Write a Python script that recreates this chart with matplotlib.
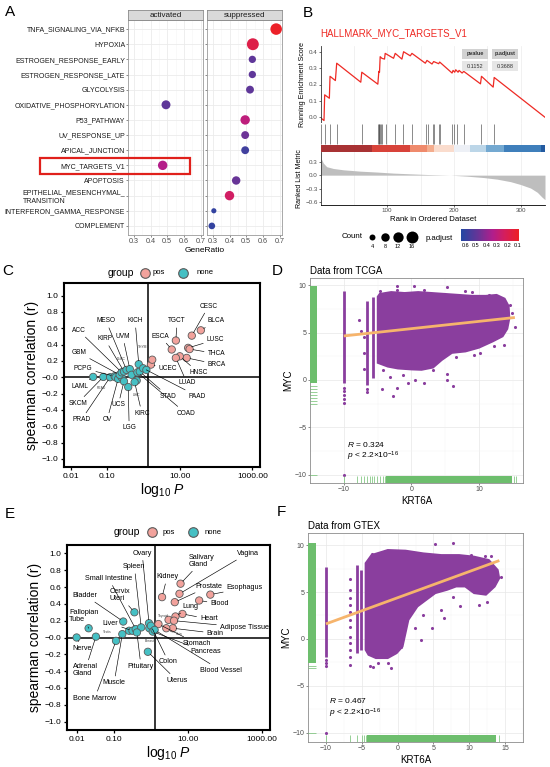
"""Six-panel figure: hallmark GSEA, MYC enrichment and KRT6A-MYC correlations."""

import matplotlib

matplotlib.use("Agg")

import matplotlib.pyplot as plt
import numpy as np
from matplotlib.colors import LinearSegmentedColormap, Normalize
from matplotlib.patches import Rectangle
from matplotlib.ticker import NullLocator

W, H = 550, 767
OUT_FILE = "out.png"

plt.rcParams["font.family"] = ["Liberation Sans", "DejaVu Sans"]
plt.rcParams["mathtext.fontset"] = "custom"
plt.rcParams["mathtext.rm"] = "Liberation Sans"
plt.rcParams["mathtext.it"] = "Liberation Sans:italic"
plt.rcParams["mathtext.bf"] = "Liberation Sans:bold"

# ---------------- Panel A: hallmark dot plot ----------------
A_TERMS = [
    "TNFA_SIGNALING_VIA_NFKB", "HYPOXIA", "ESTROGEN_RESPONSE_EARLY",
    "ESTROGEN_RESPONSE_LATE", "GLYCOLYSIS", "OXIDATIVE_PHOSPHORYLATION",
    "P53_PATHWAY", "UV_RESPONSE_UP", "APICAL_JUNCTION", "MYC_TARGETS_V1",
    "APOPTOSIS", "EPITHELIAL_MESENCHYMAL_\nTRANSITION",
    "INTERFERON_GAMMA_RESPONSE", "COMPLEMENT",
]
A_GROUP = ["suppressed"] * 5 + ["activated"] + ["suppressed"] * 3 + ["activated"] + ["suppressed"] * 4
A_RATIO = [0.68, 0.54, 0.537, 0.537, 0.523, 0.493, 0.494, 0.494, 0.494, 0.473, 0.44, 0.40, 0.306, 0.294]
A_COUNT = [15, 16, 6, 6, 7, 9, 10, 7, 7, 10, 8, 10, 3, 5]
A_PADJ = [0.10, 0.18, 0.50, 0.50, 0.50, 0.50, 0.30, 0.47, 0.57, 0.33, 0.48, 0.24, 0.60, 0.60]
A_FACETS = ["activated", "suppressed"]
COUNT_LEGEND = [4, 8, 12, 16]
PADJ_TICKS = [0.6, 0.5, 0.4, 0.3, 0.2, 0.1]

# ---------------- Panel B: GSEA running score ----------------
B_TITLE = "HALLMARK_MYC_TARGETS_V1"
ES_RANK = [1, 5.5, 6.5, 13.5, 14.5, 22.5, 24.5, 60.5, 62, 86, 87.5, 88.5, 89.5, 92, 96, 97,
           109.5, 112, 122, 124.5, 134.5, 137, 157, 159.5, 167, 169.5, 177, 178.5, 197, 198.5,
           201, 202.5, 206, 207.5, 212, 214.5, 239.5, 241, 258.5, 260, 336]
ES_SCORE = [-0.005, -0.02, 0.137, 0.116, 0.25, 0.224, 0.33, 0.214, 0.275, 0.202, 0.28, 0.275,
            0.37, 0.36, 0.355, 0.39, 0.36, 0.39, 0.355, 0.40, 0.375, 0.39, 0.33, 0.347, 0.325,
            0.34, 0.327, 0.337, 0.27, 0.286, 0.275, 0.29, 0.275, 0.286, 0.27, 0.28, 0.204, 0.25,
            0.184, 0.243, 0.0]
HIT_RANKS = [1, 6.5, 14.5, 24.5, 62, 86, 87, 88, 89, 90, 92, 98, 112, 123.5, 137, 158.5, 160.5,
             168.5, 170.5, 177, 178.5, 197.5, 200.5, 204.5, 214.5, 240.5, 259.5]
BAND_EDGES = [1, 77, 133.5, 159.5, 169.5, 199.5, 224.5, 248.5, 274.5, 330.5, 336]
BAND_COLORS = ["#A83234", "#D8433A", "#EF8A6C", "#F4AD8E", "#FADCCD", "#EDF0F6",
               "#BCD6E8", "#74A9D1", "#3F7FBB", "#235AA0"]
METRIC_RANK = [1, 2, 4.5, 9.5, 19.5, 34.5, 59.5, 84.5, 109.5, 134.5, 159.5, 194.5, 219.5,
               244.5, 264.5, 284.5, 299.5, 314.5, 324.5, 332, 336]
METRIC_VALUE = [0.38, 0.35, 0.27, 0.19, 0.15, 0.12, 0.09, 0.07, 0.046, 0.03, 0.015, 0.0,
                -0.023, -0.054, -0.09, -0.146, -0.21, -0.29, -0.385, -0.5, -0.55]
B_PVALUE = "0.1152"
B_PADJUST = "0.3688"

# ---------------- Panel C: TCGA correlations ----------------
C_NAMES = ["CESC", "BLCA", "LUSC", "THCA", "BRCA", "HNSC", "LUAD", "TGCT", "ESCA", "UCEC", "CHOL",
           "LAML", "SKCM", "PRAD", "PCPG", "DLBC", "OV", "READ", "GBM", "ACC", "KIRP", "MESO",
           "UVM", "UCS", "LGG", "THYM", "LIHC", "KIRC", "COAD", "STAD", "KICH", "PAAD", "SARC"]
C_P = [21.4, 38.0, 17.0, 18.6, 15.5, 10.0, 7.8, 7.8, 6.0, 1.6, 1.74,
       0.041, 0.078, 0.12, 0.16, 0.17, 0.20, 0.25, 0.22, 0.25, 0.29, 0.34,
       0.42, 0.29, 0.38, 0.47, 0.65, 0.57, 0.68, 0.79, 0.74, 0.98, 1.2]
C_R = [0.51, 0.575, 0.36, 0.345, 0.237, 0.257, 0.237, 0.45, 0.34, 0.155, 0.215,
       0.004, 0.004, 0.0, 0.012, 0.0, -0.02, 0.0, 0.03, 0.06, 0.07, 0.09,
       0.10, -0.05, -0.12, 0.03, -0.04, -0.06, 0.06, 0.07, 0.16, 0.11, 0.09]
C_GROUP = ["pos"] * 11 + ["none"] * 22

# ---------------- Panel E: GTEx correlations ----------------
E_NAMES = ["Salivary Gland", "Vagina", "Kidney", "Prostate", "Esophagus", "Blood", "Heart", "Lung",
           "Thyroid", "Adipose Tissue", "Brain", "Skin", "Stomach",
           "Nerve", "Fallopian Tube", "Adrenal Gland", "Bladder", "Cervix Uteri", "Bone Marrow",
           "Muscle", "Testis", "Liver", "Small Intestine", "Spleen", "Pituitary", "Ovary",
           "Breast", "Colon", "Pancreas", "Blood Vessel", "Uterus"]
E_P = [6.3, 5.9, 2.0, 4.4, 40.0, 20.0, 7.1, 4.6, 3.0, 4.2, 3.9, 2.6, 1.6,
       0.01, 0.021, 0.033, 0.18, 0.36, 0.115, 0.17, 0.26, 0.32, 0.39, 0.55, 0.42, 0.89,
       0.91, 1.0, 1.12, 1.26, 0.83]
E_R = [0.64, 0.52, 0.48, 0.42, 0.51, 0.44, 0.28, 0.25, 0.21, 0.20, 0.11, 0.11, 0.16,
       0.0, 0.11, 0.01, 0.19, 0.30, -0.04, 0.04, 0.08, 0.08, 0.10, 0.12, 0.06, 0.17,
       0.11, 0.14, 0.07, 0.09, -0.17]
E_GROUP = ["pos"] * 13 + ["none"] * 18

# ---------------- Panels D and F: KRT6A vs MYC ----------------
# the dense core of each cloud is traced as an outline; stray points are listed one by one
D_CLOUD_X = [-5.0, -5.0, -4.7, -3.0, -1.0, 1.0, 3.0, 5.0, 7.0, 9.0, 11.0, 12.6, 13.8, 14.4,
             14.5, 14.2, 13.5, 12.0, 10.0, 8.0, 6.0, 4.5, 3.2, 1.5, 0.0, -2.0, -3.5]
D_CLOUD_Y = [1.8, 8.8, 9.1, 9.3, 9.2, 9.3, 9.2, 9.1, 9.0, 8.9, 8.9, 9.0, 8.6, 7.8,
             6.5, 5.4, 4.6, 4.05, 3.4, 3.0, 2.85, 2.1, 1.3, 1.06, 1.1, 1.2, 1.4]
D_STRIP_X = [-10.0, -6.56, -5.65]
D_STRIP_LO = [-0.35, -0.5, 0.2]
D_STRIP_HI = [9.35, 8.3, 8.75]
D_DOT_X = [-10.0, -10.0, -10.0, -10.0, -10.0, -10.0,
           -7.82, -7.39, -6.95, -7.0, -7.0, -4.35, -2.74, -2.09, -0.57, 0.52, 1.83, 3.13,
           5.3, 5.2, 6.17, -2.17, 0.43, 5.3, 9.0, 11.4, 15.3, 14.64, 13.7, 12.26, 10.1, 9.2,
           6.6, 3.13, -1.2, -3.17, -4.26, -4.7, -2.09, 1.83, 7.9, 14.86, -6.56, -6.56]
D_DOT_Y = [-0.8, -1.2, -1.6, -2.0, -2.4, -10.0,
           6.35, 5.22, 4.51, 2.9, 1.13, -0.99, -1.69, -0.88, -0.35, 0.0, -0.28, 1.06,
           0.63, 0.0, -0.63, 9.95, 9.95, 9.8, 9.24, 9.0, 5.64, 7.94, 3.7, 3.6, 2.82, 2.64,
           2.47, 1.76, 0.53, 0.35, 1.06, 9.35, 9.5, 9.5, 9.35, 7.06, -0.9, -1.3]
D_FIT_X = [-10.0, 15.3]
D_FIT_Y = [4.65, 6.6]
D_RUG_Y_DENSE = (-0.35, 9.9)
D_RUG_Y_TICKS = [-0.6, -1.0, -1.3, -1.6, -1.9, -2.2, -2.5, -10.0]
D_RUG_X_DENSE = (-3.8, 14.9)
D_RUG_X_TICKS = [-10.0, -8.1, -7.5, -7.0, -6.6, -6.2, -5.8, -5.5, -5.1, -4.6, -4.2, -3.9, 15.2, 15.5]
D_STATS = ("0.324", "2.2")

F_CLOUD_X = [-4.48, -4.48, -3.65, -1.37, 1.12, 3.61, 6.1, 8.6, 10.67, 12.74, 13.99, 14.2,
             13.57, 12.33, 10.67, 9.42, 8.18, 6.93, 5.27, 4.02, 2.78, 1.53, 1.12, 0.71,
             -0.12, -1.37, -3.03, -4.07]
F_CLOUD_Y = [-1.17, 8.08, 8.96, 9.5, 9.43, 9.14, 8.96, 8.96, 8.79, 8.43, 7.36, 6.47,
             5.58, 4.7, 4.87, 5.58, 5.58, 5.23, 4.87, 4.16, 3.45, 2.03, 0.6, -0.82,
             -1.53, -2.06, -2.06, -1.71]
F_STRIP_X = [-10.0, -5.73, -5.1]
F_STRIP_LO = [-1.9, -1.5, -1.2]
F_STRIP_HI = [7.7, 7.9, 7.36]
F_DOT_X = [-10.0, -10.0, -10.0, -10.0,
           -6.64, -6.64, -6.64, -6.64, -6.64, -6.64, -6.64, -6.64, -6.64, -6.64, -6.64, -6.64,
           5.27, 7.76, -2.82, 10.25, 12.54, 11.3, 7.76, 6.51, 4.86, 3.2, 3.61, 2.37, -3.45,
           -1.37, -0.96, 14.4, -3.6, 13.0, 8.75, 6.1, -3.8, -2.7, 0.5, 12.2]
F_DOT_Y = [-2.3, -2.6, -2.9, -10.0,
           6.37, 5.23, 4.34, 3.63, 2.92, 2.03, 1.32, 0.25, -0.46, -1.17, -1.89, -2.77,
           10.1, 10.2, 9.07, 8.96, 3.98, 3.63, 4.51, 2.2, 1.14, -0.1, 2.56, 1.14, -2.95,
           -2.6, -3.13, 6.65, 9.1, 8.8, 3.5, 3.1, -2.9, -2.6, -0.9, 8.8]
F_FIT_X = [-10.0, 14.2]
F_FIT_Y = [1.6, 8.36]
F_RUG_Y_DENSE = (-2.6, 10.2)
F_RUG_Y_TICKS = [-2.9, -3.1, -10.0]
F_RUG_X_DENSE = (-4.3, 13.8)
F_RUG_X_TICKS = [-10.0, -6.6, -5.7, -5.0, -4.7, -4.4, 14.2]
F_STATS = ("0.467", "2.2")

# ---------------- colours and layout ----------------
PADJ_CMAP = LinearSegmentedColormap.from_list(
    "padj", [(0.0, "#EE2024"), (0.25, "#D41E5E"), (0.45, "#B21E8C"), (0.7, "#6A3497"), (1.0, "#2348A3")]
)
PADJ_NORM = Normalize(vmin=0.09, vmax=0.64)
POS_COLOR = "#F2A29C"
NONE_COLOR = "#45C0C4"
PURPLE = "#8A3E9E"
RUG_GREEN = "#6DBE6D"
FIT_ORANGE = "#F6B46C"

# label positions for the correlation panels (left edge x, centre y)
C_LABELS = {
    "CESC": (35, 0.87), "BLCA": (58, 0.69), "LUSC": (55, 0.46), "THCA": (58, 0.29),
    "BRCA": (58, 0.16), "HNSC": (18, 0.06), "LUAD": (9.1, -0.07), "PAAD": (17.4, -0.23),
    "COAD": (8.0, -0.44), "STAD": (2.75, -0.23), "UCEC": (2.6, 0.11), "ESCA": (1.66, 0.50),
    "TGCT": (4.8, 0.69), "KICH": (0.36, 0.69), "MESO": (0.051, 0.69), "UVM": (0.17, 0.50),
    "KIRP": (0.053, 0.47), "ACC": (0.0104, 0.575), "GBM": (0.0104, 0.30), "PCPG": (0.012, 0.11),
    "LAML": (0.0104, -0.11), "SKCM": (0.0084, -0.32), "PRAD": (0.011, -0.52), "OV": (0.074, -0.52),
    "UCS": (0.13, -0.34), "LGG": (0.26, -0.62), "KIRC": (0.55, -0.44),
    "READ": (0.051, -0.13), "LIHC": (0.5, -0.22), "THYM": (0.72, 0.37), "DLBC": (0.18, 0.22),
}
C_TINY = {"READ", "LIHC", "THYM", "DLBC"}
E_LABELS = {
    "Vagina": (204, 1.0), "Salivary Gland": (10.7, 0.91), "Kidney": (1.38, 0.72),
    "Prostate": (16.2, 0.61), "Esophagus": (110, 0.59), "Blood": (40, 0.40), "Lung": (7.2, 0.37),
    "Heart": (21, 0.22), "Adipose Tissue": (72, 0.12), "Brain": (31.6, 0.05),
    "Stomach": (7.1, -0.07), "Pancreas": (11.5, -0.17), "Blood Vessel": (21, -0.39),
    "Colon": (1.66, -0.29), "Uterus": (2.6, -0.51), "Pituitary": (0.24, -0.34),
    "Muscle": (0.05, -0.54), "Bone Marrow": (0.0081, -0.72), "Adrenal Gland": (0.0078, -0.39),
    "Nerve": (0.0075, -0.13), "Fallopian Tube": (0.0063, 0.25), "Bladder": (0.0078, 0.50),
    "Cervix Uteri": (0.076, 0.50), "Small Intestine": (0.017, 0.70), "Spleen": (0.18, 0.84),
    "Ovary": (0.32, 1.0), "Liver": (0.05, 0.17), "Testis": (0.05, 0.07), "Breast": (0.67, -0.04),
    "Thyroid": (1.55, 0.25), "Skin": (4.8, 0.04),
}
E_TINY = {"Testis", "Breast", "Thyroid", "Skin"}
E_TWO_LINE = {"Salivary Gland", "Adrenal Gland", "Fallopian Tube", "Cervix Uteri"}


def add_px_axes(fig, x0, y0, x1, y1):
    return fig.add_axes([x0 / W, 1 - y1 / H, (x1 - x0) / W, (y1 - y0) / H])


def count_size(count):
    return count * 4.6


def draw_panel_a(fig, overlay):
    rows = np.arange(len(A_TERMS))
    boxes = [(128, 203), (207, 282)]
    for facet, (x0, x1) in zip(A_FACETS, boxes):
        ax = add_px_axes(fig, x0, 20, x1, 235)
        idx = [k for k, g in enumerate(A_GROUP) if g == facet]
        ax.scatter([A_RATIO[k] for k in idx], [rows[k] for k in idx],
                   s=[count_size(A_COUNT[k]) for k in idx],
                   c=[A_PADJ[k] for k in idx], cmap=PADJ_CMAP, norm=PADJ_NORM,
                   linewidths=0, zorder=3)
        ax.set_xlim(0.265, 0.715)
        ax.set_ylim(len(A_TERMS) - 0.4, -0.6)
        ax.set_xticks([0.3, 0.4, 0.5, 0.6, 0.7])
        ax.set_xticklabels(["0.3", "0.4", "0.5", "0.6", "0.7"], fontsize=5.2, color="#4D4D4D")
        ax.set_xticks([0.35, 0.45, 0.55, 0.65], minor=True)
        ax.set_yticks(rows)
        if facet == "activated":
            ax.set_yticklabels(A_TERMS, fontsize=5, color="#1A1A1A")
            for lab in ax.get_yticklabels():
                lab.set_multialignment("left")
        else:
            ax.set_yticklabels([])
        ax.tick_params(which="major", length=1.3, width=0.4, color="#333333", pad=0.8)
        ax.tick_params(which="minor", length=0)
        ax.grid(which="major", color="#EBEBEB", lw=0.6)
        ax.grid(which="minor", axis="x", color="#F5F5F5", lw=0.4)
        ax.set_axisbelow(True)
        for sp in ax.spines.values():
            sp.set_color("#9A9A9A")
            sp.set_linewidth(0.6)
        strip = add_px_axes(fig, x0, 10, x1, 20)
        strip.set_facecolor("#D9D9D9")
        strip.set_xticks([])
        strip.set_yticks([])
        for sp in strip.spines.values():
            sp.set_color("#8C8C8C")
            sp.set_linewidth(0.6)
        strip.text(0.5, 0.45, facet, transform=strip.transAxes, ha="center", va="center",
                   fontsize=5.8, color="#1A1A1A")
    overlay.text(205, 251, "GeneRatio", ha="center", va="center", fontsize=6)
    overlay.add_patch(Rectangle((40, 157.5), 150, 16, fill=False, ec="#E0201B", lw=1.6))


def draw_panel_b(fig, overlay):
    xlim = (1, 336)
    ax_es = add_px_axes(fig, 321, 46, 545, 123)
    ax_es.plot(ES_RANK, ES_SCORE, color="#EE2A24", lw=0.9)
    ax_es.set_xlim(xlim)
    ax_es.set_ylim(-0.035, 0.435)
    ax_es.set_yticks([0, 0.1, 0.2, 0.3, 0.4])
    ax_es.set_yticklabels(["0.0", "0.1", "0.2", "0.3", "0.4"], fontsize=4.5, color="#4D4D4D")
    ax_es.set_ylabel("Running Enrichment Score", fontsize=5, labelpad=2)

    ax_hit = add_px_axes(fig, 321, 123, 545, 152)
    ax_hit.vlines(HIT_RANKS, 0.27, 0.95, color="#333333", lw=0.5, alpha=0.8)
    bands = [(BAND_EDGES[i], BAND_EDGES[i + 1] - BAND_EDGES[i]) for i in range(len(BAND_COLORS))]
    ax_hit.broken_barh(bands, (0, 0.25), facecolors=BAND_COLORS)
    ax_hit.set_xlim(xlim)
    ax_hit.set_ylim(0, 1)
    ax_hit.set_yticks([])

    ax_rank = add_px_axes(fig, 321, 152, 545, 205)
    ax_rank.fill_between(METRIC_RANK, METRIC_VALUE, 0, color="#BEBEBE", lw=0)
    ax_rank.set_xlim(xlim)
    ax_rank.set_ylim(-0.67, 0.52)
    ax_rank.set_yticks([0.3, 0.0, -0.3, -0.6])
    ax_rank.set_yticklabels(["0.3", "0.0", "\u22120.3", "\u22120.6"], fontsize=4.5, color="#4D4D4D")
    ax_rank.set_xticks([100, 200, 300])
    ax_rank.set_xticklabels(["100", "200", "300"], fontsize=4.5, color="#4D4D4D")
    ax_rank.set_xlabel("Rank in Ordered Dataset", fontsize=5.6, labelpad=2)
    ax_rank.set_ylabel("Ranked List Metric", fontsize=5, labelpad=2)

    for ax in (ax_es, ax_hit, ax_rank):
        ax.set_xticks([50, 150, 250], minor=True)
        ax.grid(axis="x", which="both", color="#EBEBEB", lw=0.5)
        ax.set_axisbelow(True)
        for name in ("top", "right"):
            ax.spines[name].set_visible(False)
        ax.spines["left"].set_linewidth(0.6)
        ax.spines["left"].set_color("#333333")
        ax.tick_params(which="both", length=1.2, width=0.4, pad=1)
        ax.tick_params(which="minor", length=0)
    for ax in (ax_es, ax_hit):
        ax.spines["bottom"].set_visible(False)
        ax.tick_params(axis="x", which="both", length=0, labelbottom=False)
    ax_hit.spines["left"].set_visible(False)
    ax_rank.spines["bottom"].set_linewidth(0.6)

    overlay.text(320, 33, B_TITLE, color="#EE2A24", fontsize=7, ha="left", va="center")
    cells = [(462, 49, "pvalue", "#D2D2D2", True), (492, 49, "p.adjust", "#D2D2D2", True),
             (462, 61, B_PVALUE, "#E6E6E6", False), (492, 61, B_PADJUST, "#E6E6E6", False)]
    for x, y, txt, col, bold in cells:
        overlay.add_patch(Rectangle((x, y), 26, 10, fc=col, ec="none"))
        overlay.text(x + 13, y + 5, txt, ha="center", va="center", fontsize=4,
                     fontweight="bold" if bold else "normal", color="#333333")

    # legends
    overlay.text(352, 237, "Count", ha="center", va="center", fontsize=5.7)
    for cx, cnt in zip([372, 385, 397.5, 412], COUNT_LEGEND):
        overlay.scatter([cx], [237], s=count_size(cnt), color="black", lw=0)
        overlay.text(cx, 247, str(cnt), ha="center", va="center", fontsize=4)
    overlay.text(439, 239, "p.adjust", ha="center", va="center", fontsize=5.6)
    ax_cb = add_px_axes(fig, 461, 229, 519, 241)
    ax_cb.imshow(np.linspace(0.64, 0.09, 200)[None, :], aspect="auto", cmap=PADJ_CMAP,
                 norm=PADJ_NORM, extent=(0.64, 0.09, 0, 1))
    ax_cb.set_xlim(0.64, 0.09)
    ax_cb.set_yticks([])
    ax_cb.set_xticks(PADJ_TICKS)
    ax_cb.set_xticklabels([f"{v:.1f}" for v in PADJ_TICKS], fontsize=4)
    ax_cb.tick_params(axis="x", length=0, pad=1.5)
    for sp in ax_cb.spines.values():
        sp.set_visible(False)


def draw_corr_panel(fig, overlay, box, xlim, ylim, names, pvals, rvals, groups,
                    labels, tiny, two_line, label_size, legend_x, legend_y):
    ax = add_px_axes(fig, *box)
    ax.set_xscale("log")
    colors = [POS_COLOR if g == "pos" else NONE_COLOR for g in groups]
    ax.axvline(1.3, color="black", lw=1.1, zorder=1)
    ax.axhline(0, color="black", lw=1.1, zorder=1)
    ax.scatter(pvals, rvals, s=28, c=colors, edgecolors="#5A5A5A", linewidths=0.6, zorder=3)
    for name, p, r in zip(names, pvals, rvals):
        if name not in labels:
            continue
        lx, ly = labels[name]
        text = name.replace(" ", "\n") if name in two_line else name
        if name in tiny:
            ax.text(lx, ly, text, fontsize=2.4, ha="left", va="center", color="#444444", zorder=5)
            continue
        ax.annotate(text, xy=(p, r), xytext=(lx, ly), fontsize=label_size, ha="left",
                    va="center", zorder=5, linespacing=1.0,
                    arrowprops=dict(arrowstyle="-", color="black", lw=0.45,
                                    shrinkA=0.5, shrinkB=2.5))
    ax.set_xlim(xlim)
    ax.set_ylim(ylim)
    ax.set_xticks([0.01, 0.1, 10, 1000])
    ax.set_xticklabels(["0.01", "0.10", "10.00", "1000.00"], fontsize=6)
    ax.xaxis.set_minor_locator(NullLocator())
    yt = [round(v, 1) for v in np.arange(-1.0, 1.01, 0.2)]
    ax.set_yticks(yt)
    ax.set_yticklabels([f"{v:.1f}".replace("-", "\u2212") for v in yt], fontsize=6)
    ax.tick_params(length=2.5, width=0.9, pad=1.5)
    for sp in ax.spines.values():
        sp.set_linewidth(1.5)
    ax.set_ylabel("spearman correlation (r)", fontsize=10, labelpad=2)
    ax.set_xlabel(r"log$_{10}$ $P$", fontsize=10, labelpad=1)

    gx, px_, tx_pos, nx_, tx_none = legend_x
    overlay.text(gx, legend_y, "group", ha="center", va="center", fontsize=7.5)
    overlay.scatter([px_], [legend_y], s=48, c=POS_COLOR, edgecolors="#5A5A5A", linewidths=0.8)
    overlay.text(tx_pos, legend_y, "pos", ha="left", va="center", fontsize=5.5)
    overlay.scatter([nx_], [legend_y], s=48, c=NONE_COLOR, edgecolors="#5A5A5A", linewidths=0.8)
    overlay.text(tx_none, legend_y, "none", ha="left", va="center", fontsize=5.5)


def draw_scatter_panel(fig, box, title, xlim, ylim, xticks, cloud_x, cloud_y, strip_x,
                       strip_lo, strip_hi, dot_x, dot_y, fit_x, fit_y, rug_y_dense,
                       rug_y_ticks, rug_x_dense, rug_x_ticks, stats, stat_pos):
    ax = add_px_axes(fig, *box)
    ax.fill(cloud_x, cloud_y, color=PURPLE, lw=1.2, zorder=2)
    ax.vlines(strip_x, strip_lo, strip_hi, color=PURPLE, lw=2.0, zorder=2)
    ax.scatter(dot_x, dot_y, s=5, color=PURPLE, lw=0, zorder=2)
    ax.plot(fit_x, fit_y, color=FIT_ORANGE, lw=2.0, solid_capstyle="butt", zorder=4)

    ytr = ax.get_yaxis_transform()
    xtr = ax.get_xaxis_transform()
    ax.add_patch(Rectangle((0, rug_y_dense[0]), 0.035, rug_y_dense[1] - rug_y_dense[0],
                           transform=ytr, color=RUG_GREEN, lw=0, zorder=3))
    ax.hlines(rug_y_ticks, 0, 0.035, transform=ytr, color=RUG_GREEN, lw=0.5, zorder=3)
    ax.add_patch(Rectangle((rug_x_dense[0], 0), rug_x_dense[1] - rug_x_dense[0], 0.035,
                           transform=xtr, color=RUG_GREEN, lw=0, zorder=3))
    ax.vlines(rug_x_ticks, 0, 0.035, transform=xtr, color=RUG_GREEN, lw=0.5, zorder=3)

    ax.set_xlim(xlim)
    ax.set_ylim(ylim)
    ax.set_xticks(xticks)
    ax.set_xticklabels([str(v).replace("-", "\u2212") for v in xticks], fontsize=5, color="#4D4D4D")
    ax.set_yticks([-10, -5, 0, 5, 10])
    ax.set_yticklabels(["\u221210", "\u22125", "0", "5", "10"], fontsize=5, color="#4D4D4D")
    step = xticks[1] - xticks[0]
    ax.set_xticks([v + step / 2 for v in xticks] + [xticks[0] - step / 2], minor=True)
    ax.set_yticks([-7.5, -2.5, 2.5, 7.5], minor=True)
    ax.grid(which="major", color="#E8E8E8", lw=0.5)
    ax.grid(which="minor", color="#F3F3F3", lw=0.35)
    ax.set_axisbelow(True)
    ax.tick_params(which="major", length=1.5, width=0.4, color="#333333", pad=1)
    ax.tick_params(which="minor", length=0)
    for sp in ax.spines.values():
        sp.set_color("#8C8C8C")
        sp.set_linewidth(0.6)
    ax.set_xlabel("KRT6A", fontsize=7, labelpad=1.5)
    ax.set_ylabel("MYC", fontsize=7, labelpad=1)
    ax.set_title(title, fontsize=7, loc="left", pad=3)
    sx, sy1, sy2 = stat_pos
    ax.text(sx, sy1, rf"$R$ = {stats[0]}", fontsize=6, ha="left", va="center", zorder=5)
    ax.text(sx, sy2, rf"$p$ < {stats[1]}×10$^{{-16}}$", fontsize=6, ha="left", va="center", zorder=5)


def main():
    fig = plt.figure(figsize=(W / 100, H / 100), dpi=100)

    # overlay in pixel coordinates for free text, legends and the highlight box
    overlay = fig.add_axes([0, 0, 1, 1], zorder=10)
    overlay.set_xlim(0, W)
    overlay.set_ylim(H, 0)
    overlay.axis("off")

    draw_panel_a(fig, overlay)
    draw_panel_b(fig, overlay)
    draw_corr_panel(fig, overlay, (64, 283, 260, 467), (10 ** -2.19, 10 ** 3.21), (-1.1, 1.155),
                    C_NAMES, C_P, C_R, C_GROUP, C_LABELS, C_TINY, set(), 4.7,
                    (121, 145, 153, 183, 197), 273)
    draw_scatter_panel(fig, (310, 278, 523, 483), "Data from TCGA", (-11.2, 16.5), (-10.88, 10.77),
                       [-10, 0, 10], D_CLOUD_X, D_CLOUD_Y, D_STRIP_X, D_STRIP_LO, D_STRIP_HI,
                       D_DOT_X, D_DOT_Y, D_FIT_X, D_FIT_Y, D_RUG_Y_DENSE, D_RUG_Y_TICKS,
                       D_RUG_X_DENSE, D_RUG_X_TICKS, D_STATS, (-9.5, -6.8, -8.1))
    draw_corr_panel(fig, overlay, (67, 545, 270, 730), (10 ** -2.26, 10 ** 3.21), (-1.1, 1.1),
                    E_NAMES, E_P, E_R, E_GROUP, E_LABELS, E_TINY, E_TWO_LINE, 5.2,
                    (127, 152, 163, 193, 205), 532)
    draw_scatter_panel(fig, (308, 533, 523, 742), "Data from GTEX", (-11.33, 15.44), (-11.0, 11.3),
                       [-10, -5, 0, 5, 10, 15], F_CLOUD_X, F_CLOUD_Y, F_STRIP_X, F_STRIP_LO,
                       F_STRIP_HI, F_DOT_X, F_DOT_Y, F_FIT_X, F_FIT_Y, F_RUG_Y_DENSE,
                       F_RUG_Y_TICKS, F_RUG_X_DENSE, F_RUG_X_TICKS, F_STATS, (-9.6, -6.6, -7.95))

    for letter, x, y in [("A", 10, 12), ("B", 308, 13), ("C", 8, 271), ("D", 277, 271),
                         ("E", 10, 514), ("F", 281, 512)]:
        overlay.text(x, y, letter, fontsize=11, ha="center", va="center")

    fig.savefig(OUT_FILE, dpi=100)
    plt.close(fig)


if __name__ == "__main__":
    main()
